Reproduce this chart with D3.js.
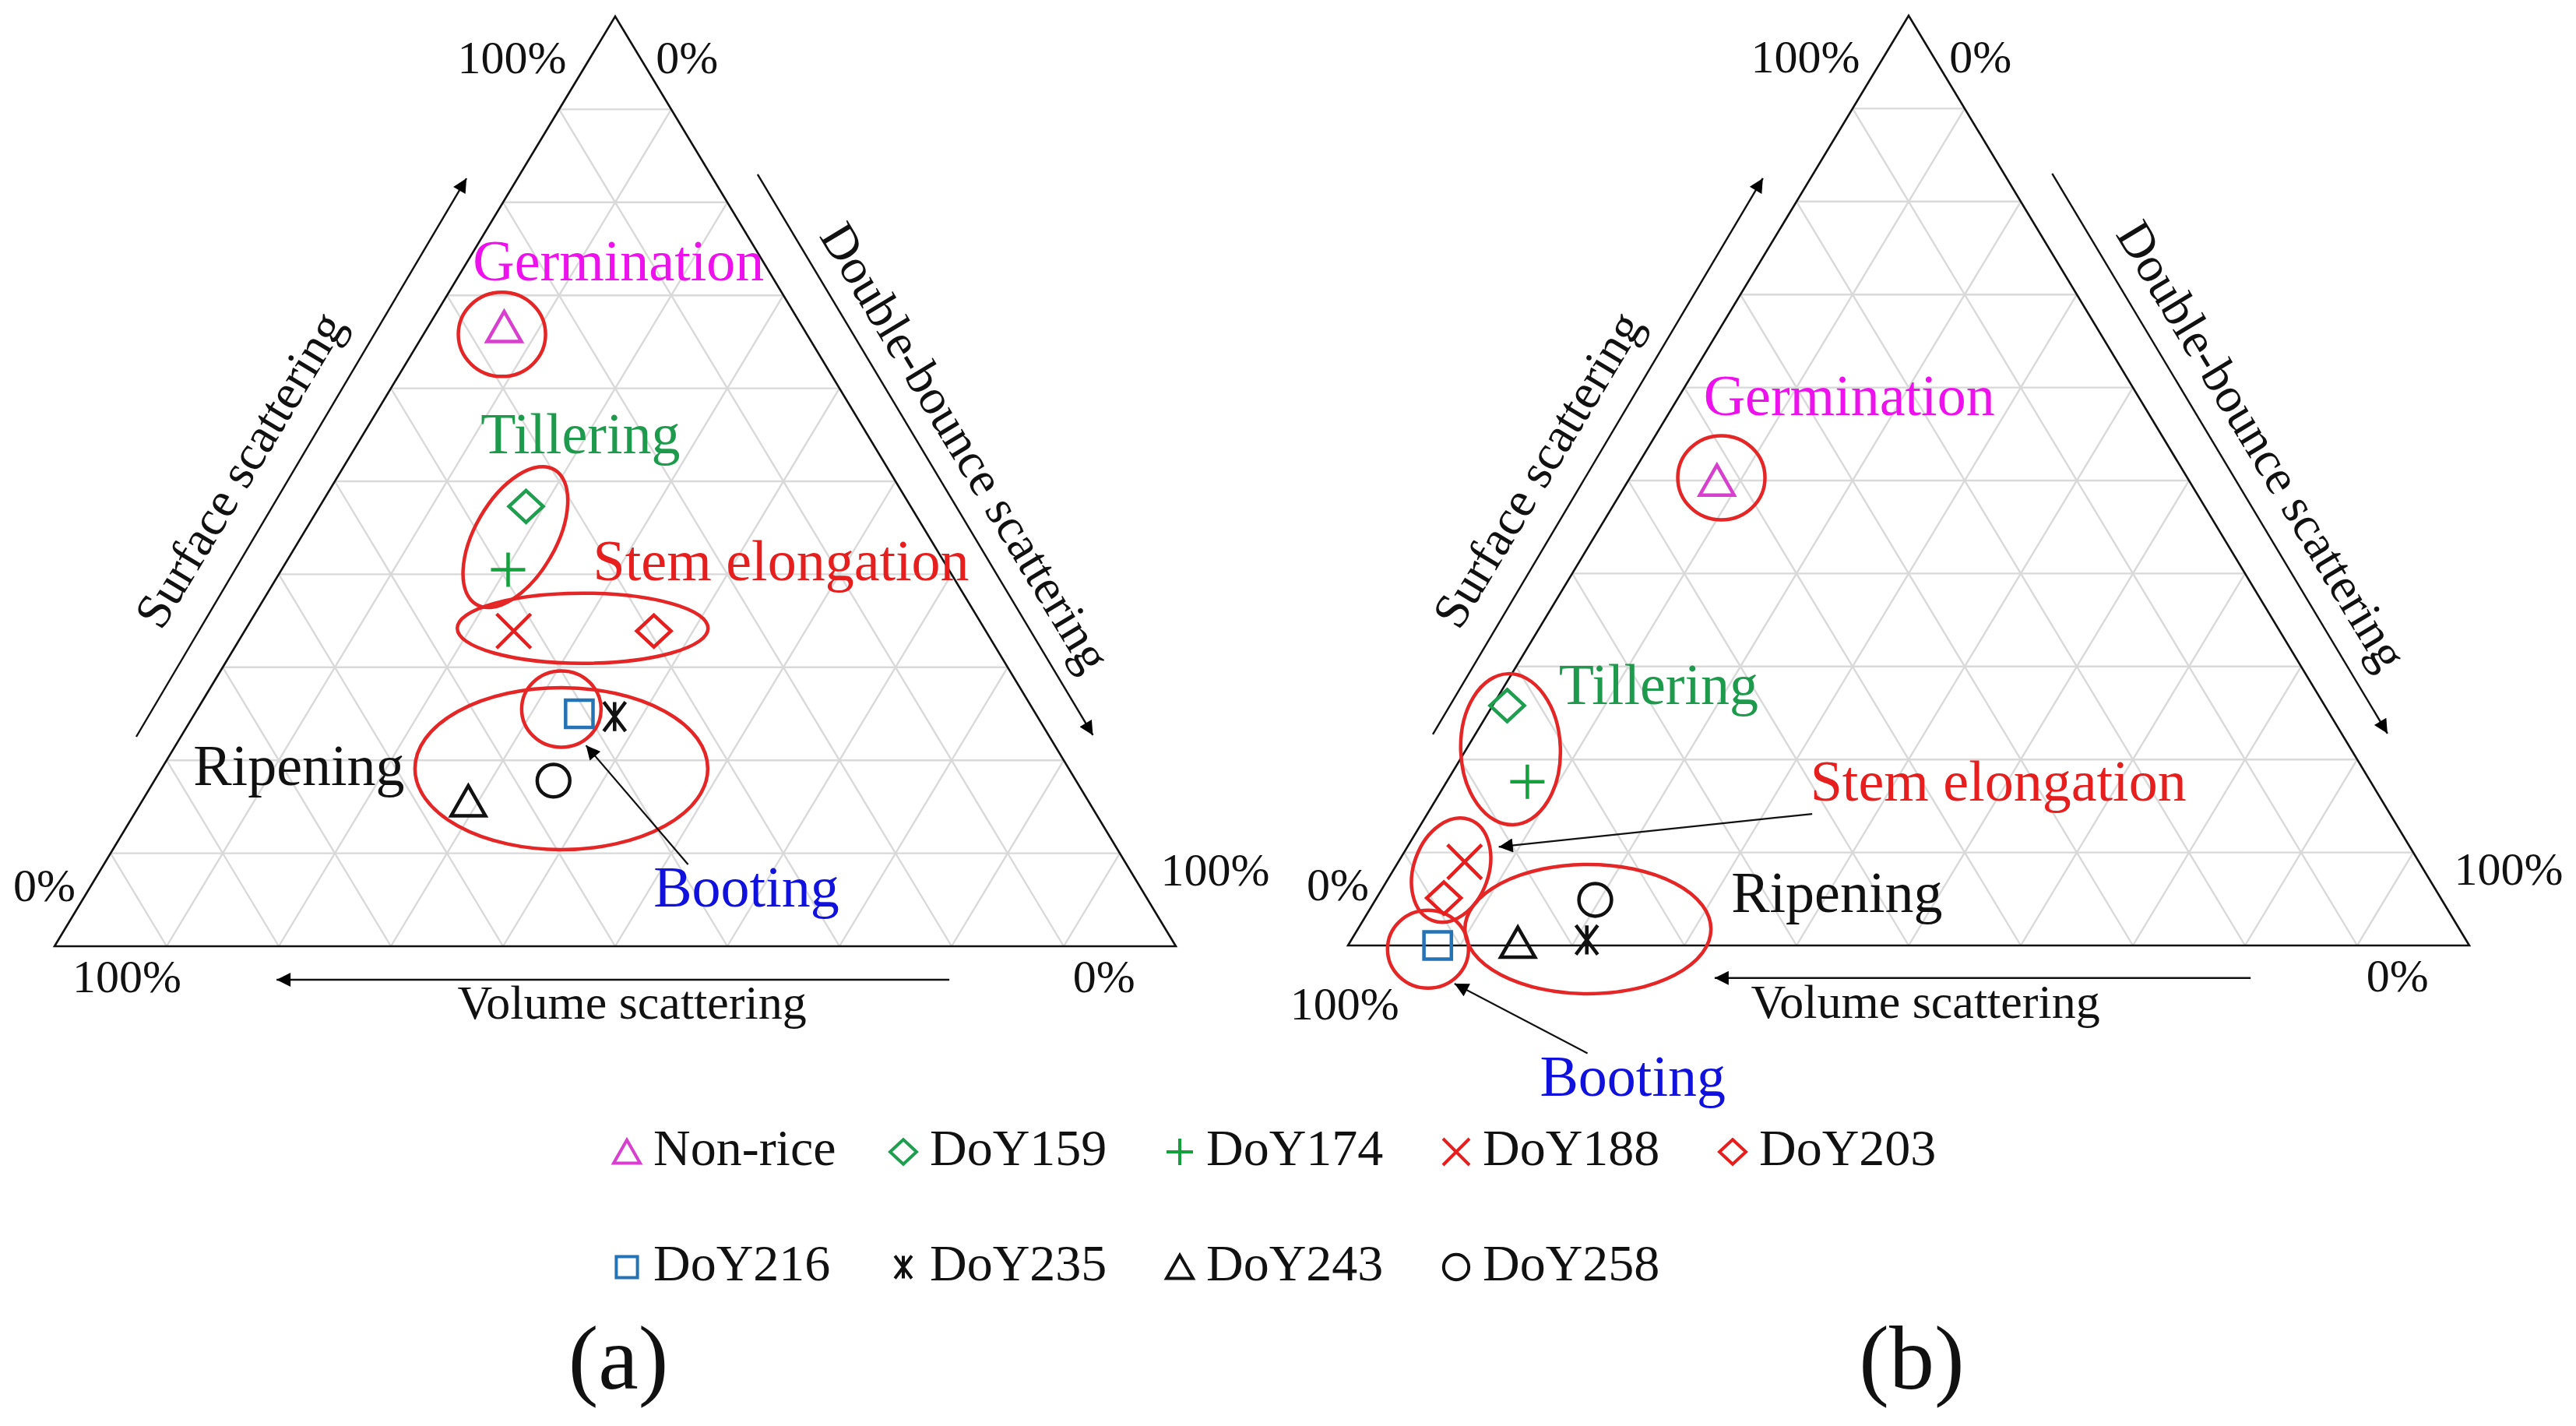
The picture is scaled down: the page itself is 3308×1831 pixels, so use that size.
<!DOCTYPE html>
<html><head><meta charset="utf-8">
<script src="https://cdn.jsdelivr.net/npm/d3@7"></script>
<style>body{margin:0;background:#fff;} svg{display:block;}</style>
</head><body>
<svg id="c" width="3308" height="1831"></svg>
<script>
// ---------------- DATA ----------------
const categories = ["Non-rice","DoY159","DoY174","DoY188","DoY203","DoY216","DoY235","DoY243","DoY258"];
// panel (a)
const surfaceA = [0.666,0.473,0.405,0.339,0.339,0.250,0.247,0.156,0.178];
const doubleA  = [0.068,0.184,0.202,0.240,0.365,0.343,0.376,0.291,0.356];
const volumeA  = [0.266,0.343,0.393,0.421,0.296,0.407,0.377,0.553,0.466];
// panel (b)
const surfaceB = [0.500,0.258,0.176,0.090,0.051,0.000,0.006,0.003,0.049];
const doubleB  = [0.079,0.013,0.072,0.059,0.060,0.080,0.210,0.150,0.196];
const volumeB  = [0.421,0.729,0.752,0.851,0.889,0.920,0.784,0.847,0.755];

const tickLabels = ["100%","0%","0%","100%","100%","0%"]; // apex-left, apex-right, left, right, bottom-left, bottom-right
const axisTitles = ["Surface scattering","Double-bounce scattering","Volume scattering"];
const stageNames = ["Germination","Tillering","Stem elongation","Booting","Ripening"];
const panelLabels = ["(a)","(b)"];
const gridSteps = [0.1,0.2,0.3,0.4,0.5,0.6,0.7,0.8,0.9];

// ---------------- STYLE / LAYOUT ----------------
const markerShape = ["tri","diamond","plus","x","diamond","square","aster","tri","circle"];
const markerColor = ["#d93fcf","#1e9e4e","#14a03c","#e61e1e","#e61e1e","#2473b5","#111","#111","#111"];
const stageColor  = ["#ee11ee","#1e9a4c","#e61e1e","#1111dd","#111"];
const FONT = "'Liberation Serif','Times New Roman',serif";
const W = 1440, H = 1194;

const panels = [
  { x0:70, base:1215, S:surfaceA, D:doubleA, V:volumeA,
    ellipses:[ // stage, u, v, rx, ry, rot
      [4,0.452,0.191,188,104,0],[3,0.452,0.255,51,49,0],[0,0.399,0.658,56,54,0],
      [1,0.411,0.440,52,100,30],[2,0.471,0.342,161,45,0]],
    texts:[[0,0.503,0.716],[1,0.469,0.530],[2,0.648,0.394],[3,0.617,0.043],[4,0.218,0.173]],
    arrows:[[0.565,0.088,0.474,0.216]],
    ticks:[[0.408,0.939],[0.564,0.939],[-0.009,0.0486],[1.035,0.065],[0.0646,-0.0494],[0.936,-0.0494]],
    axArrows:[[0.0729,0.2253,0.3674,0.8258],[0.627,0.830,0.926,0.227],[0.798,-0.036,0.198,-0.036]],
    axTitles:[[0.165,0.5126,-58.9],[0.8125,0.537,58.9],[0.515,-0.078,0]],
    label:[794,1783] },
  { x0:1731, base:1214, S:surfaceB, D:doubleB, V:volumeB,
    ellipses:[
      [4,0.214,0.0176,158,83,0],[3,0.0714,-0.004,52,50,0],[0,0.333,0.503,56,54,0],
      [1,0.145,0.211,64,97,-2],[2,0.092,0.081,48,69,20]],
    texts:[[0,0.447,0.570],[1,0.277,0.260],[2,0.580,0.156],[3,0.254,-0.162],[4,0.436,0.036]],
    arrows:[[0.414,0.1415,0.1345,0.106],[0.2136,-0.116,0.095,-0.041]],
    ticks:[[0.408,0.939],[0.564,0.939],[-0.009,0.0486],[1.035,0.065],[-0.003,-0.0796],[0.936,-0.0494]],
    axArrows:[[0.0757,0.227,0.370,0.825],[0.628,0.830,0.927,0.228],[0.805,-0.035,0.327,-0.035]],
    axTitles:[[0.169,0.512,-58.9],[0.815,0.538,58.9],[0.515,-0.078,0]],
    label:[2455,1783] }
];

// ---------------- DRAW ----------------
const svg = d3.select("#c");
svg.append("rect").attr("width",3308).attr("height",1831).attr("fill","#fff");
const defs = svg.append("defs");
defs.append("marker").attr("id","ah2").attr("viewBox","0 0 10 10").attr("refX",10).attr("refY",5)
  .attr("markerWidth",30).attr("markerHeight",18).attr("markerUnits","userSpaceOnUse")
  .attr("orient","auto").append("path").attr("d","M0,0L10,5L0,10Z").attr("fill","#000");

function markerPath(shape, s){
  const h = s/2;
  switch(shape){
    case "tri": return `M0,${-h*0.9}L${h},${h*0.85}L${-h},${h*0.85}Z`;
    case "diamond": return `M0,${-h*0.93}L${h},0L0,${h*0.93}L${-h},0Z`;
    case "plus": return `M${-h},0H${h}M0,${-h}V${h}`;
    case "x": return `M${-h},${-h}L${h},${h}M${h},${-h}L${-h},${h}`;
    case "square": { const q=h*0.8; return `M${-q},${-q}H${q}V${q}H${-q}Z`; }
    case "aster": { const a=h*0.85; return `M${-a*0.75},${-a}L${a*0.75},${a}M${a*0.75},${-a}L${-a*0.75},${a}M0,${-a}V${a}`; }
    case "circle": return d3.arc()({innerRadius:0,outerRadius:h*0.95,startAngle:0,endAngle:2*Math.PI});
  }
}

panels.forEach((p, pi) => {
  const x = d3.scaleLinear().domain([0,1]).range([p.x0, p.x0 + W]);
  const y = d3.scaleLinear().domain([0,1]).range([p.base, p.base - H]);
  const g = svg.append("g");

  // grid
  const gridSegs = [];
  gridSteps.forEach(t => {
    gridSegs.push([t/2, t, 1 - t/2, t]);                 // constant surface
    gridSegs.push([t, 0, t + (1-t)/2, 1-t]);             // constant double-bounce
    gridSegs.push([1-t, 0, (1-t)/2, 1-t]);               // constant volume
  });
  g.selectAll("line.grid").data(gridSegs).join("line").attr("class","grid")
    .attr("x1",d=>x(d[0])).attr("y1",d=>y(d[1])).attr("x2",d=>x(d[2])).attr("y2",d=>y(d[3]))
    .attr("stroke","#d9d9d9").attr("stroke-width",2.4);

  // triangle outline
  g.append("path").attr("d", d3.line()([[x(0),y(0)],[x(1),y(0)],[x(0.5),y(1)]]) + "Z")
    .attr("fill","none").attr("stroke","#111").attr("stroke-width",2.6).attr("stroke-linejoin","miter");

  // tick labels
  g.selectAll("text.tick").data(p.ticks).join("text").attr("class","tick")
    .attr("x",d=>x(d[0])).attr("y",d=>y(d[1])).attr("text-anchor","middle")
    .attr("font-family",FONT).attr("font-size",60).attr("fill","#111")
    .text((d,i)=>tickLabels[i]);

  // axis arrows
  g.selectAll("line.axarrow").data(p.axArrows).join("line").attr("class","axarrow")
    .attr("x1",d=>x(d[0])).attr("y1",d=>y(d[1])).attr("x2",d=>x(d[2])).attr("y2",d=>y(d[3]))
    .attr("stroke","#111").attr("stroke-width",2.4).attr("marker-end","url(#ah2)");

  // axis titles
  g.selectAll("text.axt").data(p.axTitles).join("text").attr("class","axt")
    .attr("transform",d=>`translate(${x(d[0])},${y(d[1])}) rotate(${d[2]})`)
    .attr("text-anchor","middle").attr("dominant-baseline", (d,i)=> i===2 ? "auto" : "central")
    .attr("font-family",FONT).attr("font-size",(d,i)=> i===2 ? 62 : 64).attr("fill","#111")
    .text((d,i)=>axisTitles[i]);

  // stage ellipses
  g.selectAll("ellipse.stage").data(p.ellipses).join("ellipse").attr("class","stage")
    .attr("transform",d=>`translate(${x(d[1])},${y(d[2])}) rotate(${d[5]})`)
    .attr("rx",d=>d[3]).attr("ry",d=>d[4])
    .attr("fill","none").attr("stroke","#e52626").attr("stroke-width",4.5);

  // stage texts
  g.selectAll("text.stage").data(p.texts).join("text").attr("class","stage")
    .attr("x",d=>x(d[1])).attr("y",d=>y(d[2])).attr("text-anchor","middle")
    .attr("font-family",FONT).attr("font-size",74).attr("fill",d=>stageColor[d[0]])
    .text(d=>stageNames[d[0]]);

  // annotation arrows
  g.selectAll("line.ann").data(p.arrows).join("line").attr("class","ann")
    .attr("x1",d=>x(d[0])).attr("y1",d=>y(d[1])).attr("x2",d=>x(d[2])).attr("y2",d=>y(d[3]))
    .attr("stroke","#111").attr("stroke-width",2.2).attr("marker-end","url(#ah2)");

  // points
  const pts = categories.map((c,i)=>{
    const tot = p.S[i] + p.D[i] + p.V[i];
    const s = p.S[i]/tot, dd = p.D[i]/tot;
    return {i, u: dd + s/2, v: s};
  });
  g.selectAll("path.pt").data(pts).join("path").attr("class","pt")
    .attr("transform",d=>`translate(${x(d.u)},${y(d.v)})`)
    .attr("d",d=>markerPath(markerShape[d.i], 44))
    .attr("fill","none").attr("stroke",d=>markerColor[d.i]).attr("stroke-width",4.5);

  // panel label
  svg.append("text").attr("x",p.label[0]).attr("y",p.label[1]).attr("text-anchor","middle")
    .attr("font-family",FONT).attr("font-size",116).attr("fill","#111").text(panelLabels[pi]);
});

// legend
const legX = d3.scaleLinear().domain([0,1]).range([805,1160]);
const legY = [1496,1644];
const leg = svg.append("g").selectAll("g").data(categories).join("g")
  .attr("transform",(d,i)=>`translate(${legX(i<5?i:i-5)},${legY[i<5?0:1]})`);
leg.append("path").attr("transform","translate(0,-17)")
  .attr("d",(d,i)=>markerPath(markerShape[i],34))
  .attr("fill","none").attr("stroke",(d,i)=>markerColor[i]).attr("stroke-width",4);
leg.append("text").attr("x",34).attr("font-family",FONT).attr("font-size",66).attr("fill","#111").text(d=>d);
</script>
</body></html>
